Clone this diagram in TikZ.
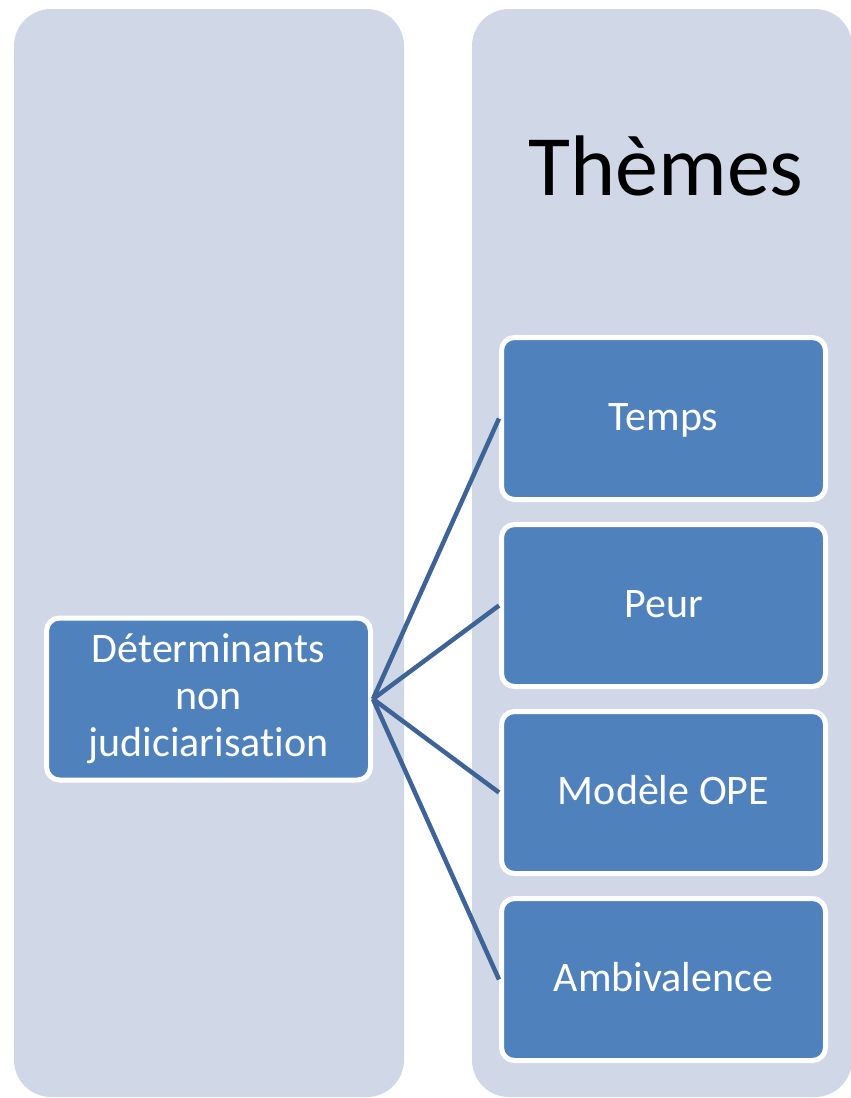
\documentclass[tikz,border=0pt]{standalone}
\usepackage{fontspec}
\setmainfont[Ligatures={NoCommon}]{Carlito}
\usetikzlibrary{positioning}
\definecolor{colfond}{HTML}{D0D8E8}
\definecolor{boitebleu}{HTML}{4F81BD}
\definecolor{lienbleu}{HTML}{3E6497}
\tikzset{Schema/.style = {
		x=1pt, y=-1pt,
		colonne/.style = {fill=colfond, rounded corners=37pt},
		boite/.style = {rectangle, draw=white, line width=5pt, fill=boitebleu,
			rounded corners=13pt, text=white, font=\fontsize{42}{47}\selectfont,
			minimum width=324pt, minimum height=162pt, inner sep=0pt},
		theme/.style = {boite, text height=26pt, text depth=2pt},
		lien/.style = {draw=lienbleu, line width=4.5pt},
		titre/.style = {font=\fontsize{86}{96}\selectfont, text=black, anchor=base, inner sep=0pt}
	}% end of Schema style
}
\begin{document}
\begin{tikzpicture}[Schema]
  \useasboundingbox (0,0) rectangle (851,1098);
  \fill[colonne] (14,9) rectangle (404,1097);
  \fill[colonne] (472,9) rectangle (852,1097);

  \node[titre] (Titre) at (666,195) {Thèmes};

  \node[boite, align=center] (Det) at (208.5,699) {Déterminants\\non\\judiciarisation};

  \node[theme] (Temps) at (663.5,418.5) {Temps};
  \node[theme, below=20pt of Temps] (Peur) {Peur};
  \node[theme, below=20pt of Peur] (OPE) {Modèle OPE};
  \node[theme, below=20pt of OPE] (Ambi) {Ambivalence};

  \draw[lien] (Det.east) -- (Temps.west);
  \draw[lien] (Det.east) -- (Peur.west);
  \draw[lien] (Det.east) -- (OPE.west);
  \draw[lien] (Det.east) -- (Ambi.west);
\end{tikzpicture}
\end{document}
